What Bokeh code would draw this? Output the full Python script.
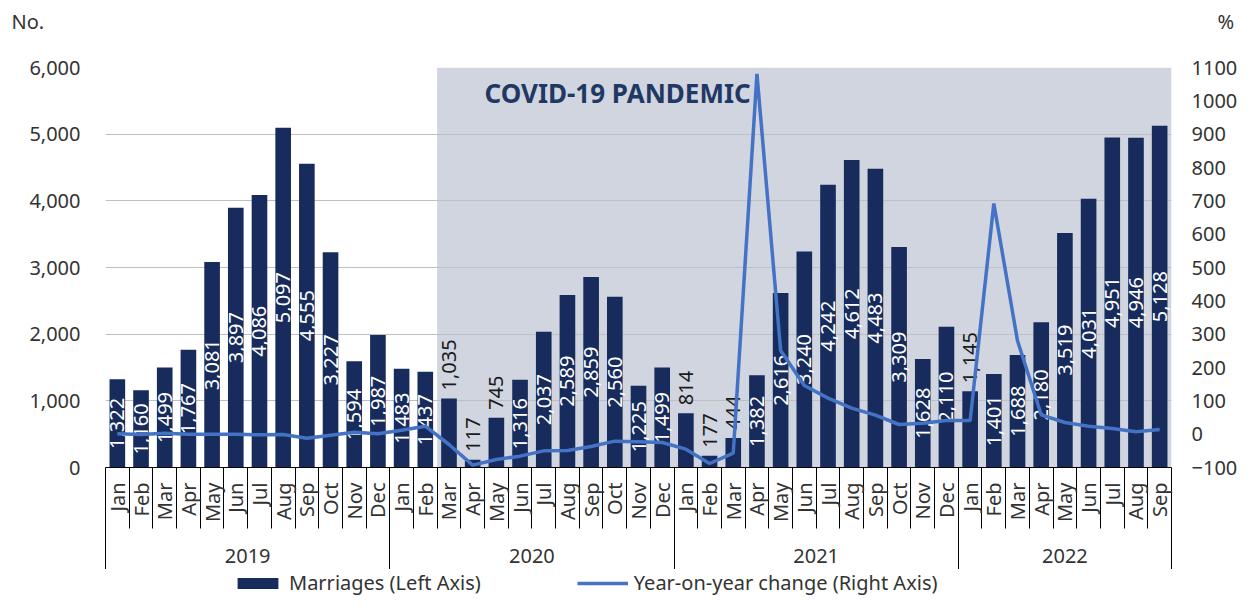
import math
from bokeh.plotting import figure
from bokeh.layouts import column
from bokeh.models import (Range1d, LinearAxis, FixedTicker, NumeralTickFormatter,
                          ColumnDataSource, Label, Legend, LegendItem)
from bokeh.core.properties import value
from bokeh.embed import file_html
from bokeh.resources import INLINE

# ---------------- data ----------------
months = ["Jan", "Feb", "Mar", "Apr", "May", "Jun", "Jul", "Aug", "Sep", "Oct", "Nov", "Dec",
          "Jan", "Feb", "Mar", "Apr", "May", "Jun", "Jul", "Aug", "Sep", "Oct", "Nov", "Dec",
          "Jan", "Feb", "Mar", "Apr", "May", "Jun", "Jul", "Aug", "Sep", "Oct", "Nov", "Dec",
          "Jan", "Feb", "Mar", "Apr", "May", "Jun", "Jul", "Aug", "Sep"]
years = ["2019"] * 12 + ["2020"] * 12 + ["2021"] * 12 + ["2022"] * 9
marriages = [1322, 1160, 1499, 1767, 3081, 3897, 4086, 5097, 4555, 3227, 1594, 1987,
             1483, 1437, 1035, 117, 745, 1316, 2037, 2589, 2859, 2560, 1225, 1499,
             814, 177, 444, 1382, 2616, 3240, 4242, 4612, 4483, 3309, 1628, 2110,
             1145, 1401, 1688, 2180, 3519, 4031, 4951, 4946, 5128]
yoy = [1, -1, 3, 0, 0, 0, -2, -1, -12, -3, 6, 1,
       12, 24, -31, -93, -76, -66, -50, -49, -37, -21, -23, -25,
       -45, -88, -57, 1081, 251, 146, 108, 78, 57, 29, 33, 41,
       41, 692, 280, 58, 35, 24, 17, 7, 14]
left_ticks = [0, 1000, 2000, 3000, 4000, 5000, 6000]
right_ticks = [-100, 0, 100, 200, 300, 400, 500, 600, 700, 800, 900, 1000, 1100]
unit_labels = ["No.", "%"]
series_names = ["Marriages (Left Axis)", "Year-on-year change (Right Axis)"]
pandemic_start = ("Mar", "2020")
pandemic_text = "COVID-19 PANDEMIC"

# ---------------- style ----------------
FONT = "Noto Sans"
NAVY = "#172B5C"
LINE = "#4472C4"
SHADE = "#D0D5E0"
TXT = "#333333"
W = 1240
TOP_H, MAIN_H, BOT_H = 42, 527, 27
FL, FR = 105, 1174          # frame left / right
FT, FB = 25, 425            # frame top / bottom inside main figure
FS = "20px"

n = len(marriages)
xs = list(range(n))
ymax = left_ticks[-1]
units_per_px = ymax / (FB - FT)


def bare(fig):
    fig.outline_line_color = None
    fig.grid.visible = False
    fig.background_fill_color = "white"
    fig.border_fill_color = "white"
    fig.frame_align = False
    return fig


# ---------------- top strip: unit captions ----------------
top = bare(figure(width=W, height=TOP_H, output_backend="svg", toolbar_location=None,
                  x_range=Range1d(0, W), y_range=Range1d(0, TOP_H),
                  x_axis_location=None, y_axis_location=None, min_border=0))
top.text(x=[11, 1217], y=[TOP_H - 21, TOP_H - 21], text=unit_labels,
         text_font=value(FONT), text_font_size=FS, text_color=TXT,
         text_align="left", text_baseline="middle")

# ---------------- main chart ----------------
p = figure(width=W, height=MAIN_H, output_backend="svg", toolbar_location=None,
           x_range=Range1d(-0.5, n - 0.5), y_range=Range1d(left_ticks[0], ymax),
           min_border_left=FL, min_border_right=W - FR,
           min_border_top=FT, min_border_bottom=MAIN_H - FB)
p.frame_align = False
p.outline_line_color = None
p.background_fill_color = "white"
p.border_fill_color = "white"
p.extra_y_ranges = {"pct": Range1d(right_ticks[0], right_ticks[-1])}

# pandemic shading
start_idx = [i for i in xs if (months[i], years[i]) == pandemic_start][0]
p.quad(left=[start_idx - 0.5], right=[n - 0.5], bottom=[left_ticks[0]], top=[ymax],
       fill_color=SHADE, line_color=None, level="image")

# grid
p.xgrid.visible = False
p.ygrid.ticker = FixedTicker(ticks=left_ticks[1:])
p.ygrid.grid_line_color = "#BDBFC3"
p.ygrid.grid_line_width = 1

# bars
src = ColumnDataSource(dict(x=xs, v=marriages))
bars = p.vbar(x="x", top="v", width=0.66, source=src, fill_color=NAVY, line_color=None)

# bar labels
fmt = lambda v: f"{v:,}"
inside = [i for i in xs if marriages[i] >= 1150]
outside = [i for i in xs if marriages[i] < 1150]
src_in = ColumnDataSource(dict(x=inside, y=[marriages[i] / 2 for i in inside],
                               t=[fmt(marriages[i]) for i in inside]))
src_out = ColumnDataSource(dict(x=outside, y=[marriages[i] + 8 * units_per_px for i in outside],
                                t=[fmt(marriages[i]) for i in outside]))
p.text(x="x", y="y", text="t", source=src_in, angle=math.pi / 2, text_align="center",
       text_baseline="middle", text_color="white", text_font=value(FONT), text_font_size=FS)
p.text(x="x", y="y", text="t", source=src_out, angle=math.pi / 2, text_align="left",
       text_baseline="middle", text_color="#1A1A1A", text_font=value(FONT), text_font_size=FS)

# yoy line
line = p.line(xs, yoy, y_range_name="pct", line_color=LINE, line_width=3.5)

# left axis
ya = p.yaxis[0]
ya.ticker = FixedTicker(ticks=left_ticks)
ya.formatter = NumeralTickFormatter(format="0,0")
ya.axis_line_color = None
ya.major_tick_line_color = None
ya.minor_tick_line_color = None
ya.major_tick_out = 0
ya.minor_tick_out = 0
ya.major_label_standoff = 25
ya.major_label_text_font = FONT
ya.major_label_text_font_size = FS
ya.major_label_text_color = TXT

# right axis
ra = LinearAxis(y_range_name="pct", ticker=FixedTicker(ticks=right_ticks))
ra.axis_line_color = None
ra.major_tick_line_color = None
ra.minor_tick_line_color = None
ra.major_tick_out = 0
ra.minor_tick_out = 0
ra.major_label_standoff = 20
ra.major_label_text_font = FONT
ra.major_label_text_font_size = FS
ra.major_label_text_color = TXT
p.add_layout(ra, "right")

# month axis (separators drawn as minor ticks pointing outward)
xa = p.xaxis[0]
xa.ticker = FixedTicker(ticks=xs, minor_ticks=[i - 0.5 for i in range(n + 1)])
xa.major_label_overrides = {i: months[i] for i in xs}
xa.major_label_orientation = math.pi / 2
xa.axis_line_color = "black"
xa.axis_line_width = 1
xa.major_tick_line_color = None
xa.major_tick_out = 0
xa.major_tick_in = 0
xa.minor_tick_line_color = "black"
xa.minor_tick_out = 0
xa.minor_tick_in = -61
xa.major_label_standoff = 15
xa.major_label_text_font = FONT
xa.major_label_text_font_size = FS
xa.major_label_text_color = TXT

# year axis
year_names, year_first = [], []
for i, y in enumerate(years):
    if not year_names or year_names[-1] != y:
        year_names.append(y)
        year_first.append(i)
year_last = year_first[1:] + [n]
year_centers = [(a + b - 1) / 2 for a, b in zip(year_first, year_last)]
year_bounds = [a - 0.5 for a in year_first] + [n - 0.5]
ya2 = LinearAxis(ticker=FixedTicker(ticks=year_centers, minor_ticks=year_bounds))
ya2.major_label_overrides = {c: nme for c, nme in zip(year_centers, year_names)}
ya2.axis_line_color = None
ya2.major_tick_line_color = None
ya2.major_tick_out = 0
ya2.major_tick_in = 0
ya2.minor_tick_line_color = "black"
ya2.minor_tick_out = -8
ya2.minor_tick_in = -57
ya2.major_label_standoff = 23
ya2.major_label_text_font = FONT
ya2.major_label_text_font_size = FS
ya2.major_label_text_color = TXT
p.add_layout(ya2, "below")

# pandemic annotation
p.add_layout(Label(x=379, y=375, x_units="screen", y_units="screen", text=pandemic_text,
                   text_font=FONT, text_font_size="26px", text_font_style="bold",
                   text_color="#1F3864", text_baseline="middle", text_align="left"))

# ---------------- bottom strip: legend ----------------
bot = bare(figure(width=W, height=BOT_H, output_backend="svg", toolbar_location=None,
                  x_range=Range1d(0, 1), y_range=Range1d(0, 1),
                  x_axis_location=None, y_axis_location=None, min_border=0))
key_bar = bot.vbar(x=[-10], top=[0], width=0.5, fill_color=NAVY, line_color=None)
key_line = bot.line(x=[-10, -9], y=[0, 0], line_color=LINE, line_width=3.5)
legend = Legend(items=[LegendItem(label=series_names[0], renderers=[key_bar]),
                       LegendItem(label=series_names[1], renderers=[key_line])],
                orientation="horizontal", location=(232, 0),
                glyph_width=51, glyph_height=14, label_standoff=6, spacing=96,
                padding=0, margin=0, border_line_color=None, background_fill_alpha=0,
                label_text_font=FONT, label_text_font_size=FS, label_text_color=TXT,
                label_height=20)
bot.add_layout(legend, "center")

layout = column(top, p, bot, spacing=0)
open("out.html", "w").write(file_html(layout, INLINE))
